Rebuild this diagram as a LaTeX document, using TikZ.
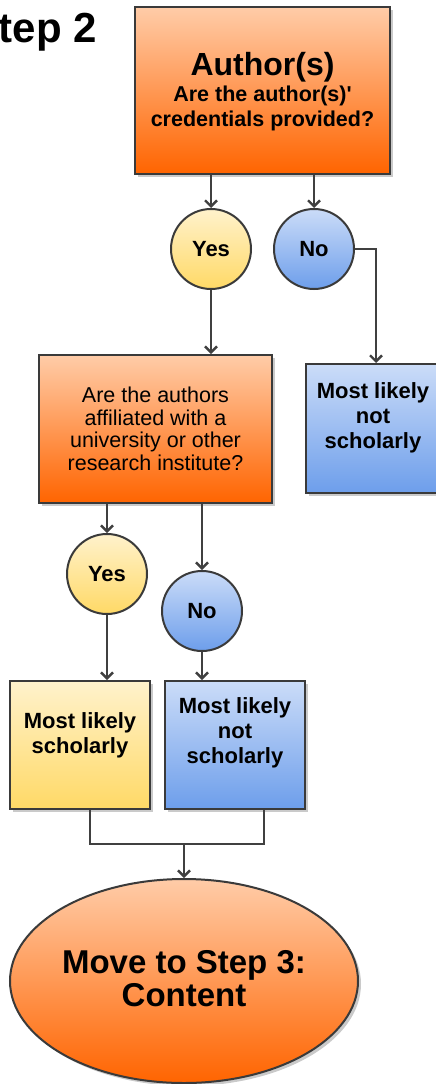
\documentclass[tikz,border=0pt]{standalone}
\usepackage{fontspec}
\setmainfont{Liberation Sans}
\usetikzlibrary{arrows.meta,shadows,shapes.geometric}
\definecolor{bd}{HTML}{3A3A3A}
\definecolor{ln}{HTML}{404040}
\definecolor{orT}{HTML}{FFCCA8}
\definecolor{orB}{HTML}{FF6400}
\definecolor{yeT}{HTML}{FFF2CC}
\definecolor{yeB}{HTML}{FFD966}
\definecolor{blT}{HTML}{CBDCF8}
\definecolor{blB}{HTML}{6D9EEB}
\begin{document}
\begin{tikzpicture}[x=1pt,y=-1pt,
  shbox/.style={rectangle,draw=bd,line width=2pt,inner sep=0pt,
    drop shadow={shadow xshift=3pt,shadow yshift=-3pt,fill=black!35,opacity=0.6}},
  orangefill/.style={top color=orT,bottom color=orB},
  yellowfill/.style={top color=yeT,bottom color=yeB},
  bluefill/.style={top color=blT,bottom color=blB},
  circ/.style={circle,draw=bd,line width=2pt,minimum size=80pt,inner sep=0pt},
  arr/.style={draw=ln,line width=2.6pt,-{Straight Barb[length=6pt,width=12pt,line width=2.4pt]}},
  conn/.style={draw=ln,line width=2.6pt},
  bt/.style={font=\fontsize{22pt}{25pt}\selectfont\bfseries,align=center,inner sep=0pt},
  rt/.style={font=\fontsize{21.5pt}{22.5pt}\selectfont,align=center,inner sep=0pt}
]
\clip (0,0) rectangle (436,1084);
\useasboundingbox (0,0) rectangle (436,1084);

\node[anchor=base west,inner sep=0pt,font=\fontsize{42pt}{42pt}\selectfont\bfseries] (title) at (-1.5,42) {tep 2};

% top box
\node[shbox,orangefill,minimum width=255pt,minimum height=167pt] (box1) at (262.5,90.5) {};
\node[bt,font=\fontsize{21.5pt}{25.5pt}\selectfont\bfseries] (t1) at (262.5,92) {{\fontsize{32pt}{32pt}\selectfont Author(s)}\\Are the author(s)\textquotesingle\\credentials provided?};

\node[circ,yellowfill] (yes1) at (211,249) {};
\node[bt] at (yes1.center) {Yes};
\node[circ,bluefill] (no1) at (314,249) {};
\node[bt] at (no1.center) {No};

\node[shbox,orangefill,minimum width=233pt,minimum height=148pt] (box2) at (155.5,429) {};
\node[rt] (t2) at (155.5,429) {Are the authors\\affiliated with a\\university or other\\research institute?};

\node[shbox,bluefill,minimum width=134pt,minimum height=129pt] (box3) at (373,428.5) {};
\node[bt] (t3) at (373,418) {Most likely\\not\\scholarly};

\node[circ,yellowfill] (yes2) at (107,574) {};
\node[bt] at (yes2.center) {Yes};
\node[circ,bluefill] (no2) at (202,611) {};
\node[bt] at (no2.center) {No};

\node[shbox,yellowfill,minimum width=140pt,minimum height=128pt] (box4) at (80,745) {};
\node[bt] (t4) at (80,735) {Most likely\\scholarly};

\node[shbox,bluefill,minimum width=140pt,minimum height=128pt] (box5) at (235,745) {};
\node[bt] (t5) at (235,733) {Most likely\\not\\scholarly};

\node[ellipse,draw=bd,line width=2pt,orangefill,minimum width=348pt,minimum height=204pt,inner sep=0pt,
  drop shadow={shadow xshift=3pt,shadow yshift=-3pt,fill=black!35,opacity=0.6}] (ell) at (184,981) {};
\node[font=\fontsize{33pt}{33pt}\selectfont\bfseries,align=center,inner sep=0pt] (t6) at (184,979) {Move to Step 3:\\Content};

% connectors
\draw[arr] (box1.south -| yes1.north) -- (yes1.north);
\draw[arr] (box1.south -| no1.north) -- (no1.north);
\draw[arr] (yes1.south) -- (yes1.south |- box2.north);
\draw[arr] (no1.east) -| ([xshift=3pt]box3.north);
\draw[arr] (box2.south -| yes2.north) -- (yes2.north);
\draw[arr] (box2.south -| no2.north) -- (no2.north);
\draw[arr] (yes2.south) -- (yes2.south |- box4.north);
\draw[arr] (no2.south) -- (no2.south |- box5.north);
\coordinate (j) at (184,844);
\draw[conn] ([xshift=10pt]box4.south) |- (j) -| ([xshift=29pt]box5.south);
\draw[arr] (j) -- (ell.north);
\end{tikzpicture}
\end{document}
